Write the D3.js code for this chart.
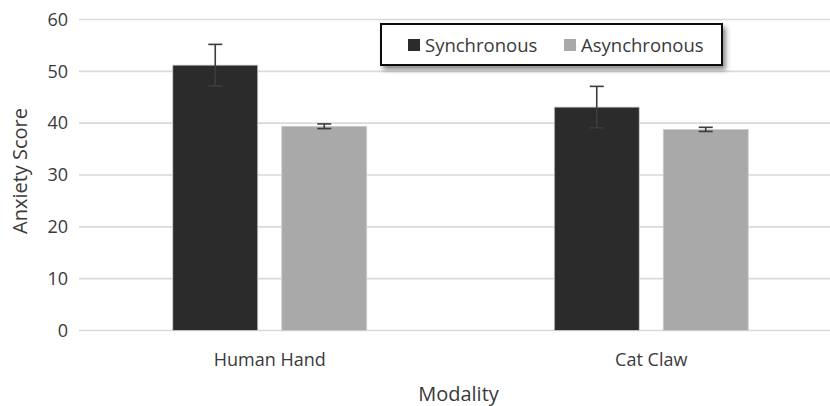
<!DOCTYPE html>
<html>
<head>
<meta charset="utf-8">
<script src="https://cdn.jsdelivr.net/npm/d3@7"></script>
<style>
  body { margin: 0; background: #fff; }
  svg text { font-family: "Open Sans", sans-serif; fill: #3a3a3a; }
</style>
</head>
<body>
<div id="chart"></div>
<script>
// Anxiety score by modality, synchronous vs asynchronous stroking
var categories = ["Human Hand", "Cat Claw"];
var seriesNames = ["Synchronous", "Asynchronous"];
var synchronous = [51.2, 43.1];
var asynchronous = [39.4, 38.8];
var synchronousErr = [4.0, 4.0];
var asynchronousErr = [0.45, 0.4];
var yTicks = [0, 10, 20, 30, 40, 50, 60];

var colors = { Synchronous: "#2b2b2b", Asynchronous: "#a9a9a9" };

var width = 830, height = 406;
var margin = { top: 19, left: 79, bottom: 75 };
var plotRight = 842;

var svg = d3.select("#chart").append("svg")
  .attr("width", width)
  .attr("height", height);

var defs = svg.append("defs");
var shadow = defs.append("filter").attr("id", "legendShadow")
  .attr("x", "-10%").attr("y", "-30%").attr("width", "120%").attr("height", "180%");
shadow.append("feDropShadow")
  .attr("dx", 3).attr("dy", 4).attr("stdDeviation", 2.5)
  .attr("flood-color", "#000").attr("flood-opacity", 0.45);

var y = d3.scaleLinear().domain([0, 60]).range([height - margin.bottom - 0.5, margin.top + 0.5]);

var x0 = d3.scaleBand().domain(categories).range([margin.left, plotRight]);
var groupW = 194;
var x1 = d3.scaleBand().domain(seriesNames)
  .range([(x0.bandwidth() - groupW) / 2, (x0.bandwidth() + groupW) / 2])
  .paddingInner(0.22);

// gridlines
svg.append("g").selectAll("line")
  .data(yTicks)
  .join("line")
  .attr("x1", margin.left).attr("x2", width)
  .attr("y1", function (d) { return y(d); })
  .attr("y2", function (d) { return y(d); })
  .attr("stroke", "#d9d9d9")
  .attr("stroke-width", 1.6);

// y axis labels
var yAxis = svg.append("g")
  .attr("transform", "translate(" + margin.left + ",0)")
  .call(d3.axisLeft(y).tickValues(yTicks).tickSize(0).tickPadding(11));
yAxis.select(".domain").remove();
yAxis.selectAll("text").attr("font-size", 18).style("font-family", "Open Sans").attr("fill", "#3a3a3a");

// bars
var rows = categories.map(function (c, i) {
  return [
    { cat: c, key: "Synchronous", value: synchronous[i], err: synchronousErr[i] },
    { cat: c, key: "Asynchronous", value: asynchronous[i], err: asynchronousErr[i] }
  ];
});

var groups = svg.append("g").selectAll("g")
  .data(rows)
  .join("g")
  .attr("transform", function (d) { return "translate(" + x0(d[0].cat) + ",0)"; });

groups.selectAll("rect")
  .data(function (d) { return d; })
  .join("rect")
  .attr("x", function (d) { return x1(d.key); })
  .attr("width", x1.bandwidth())
  .attr("y", function (d) { return y(d.value); })
  .attr("height", function (d) { return y(0) - y(d.value); })
  .attr("fill", function (d) { return colors[d.key]; })
  .attr("stroke", "#cfcfcf")
  .attr("stroke-width", 0.8);

// error bars
var eb = groups.selectAll("g.err")
  .data(function (d) { return d; })
  .join("g")
  .attr("class", "err")
  .attr("stroke", "#3c3c3c")
  .attr("stroke-width", 1.6);
eb.append("line")
  .attr("x1", function (d) { return x1(d.key) + x1.bandwidth() / 2; })
  .attr("x2", function (d) { return x1(d.key) + x1.bandwidth() / 2; })
  .attr("y1", function (d) { return y(d.value + d.err); })
  .attr("y2", function (d) { return y(d.value - d.err); });
[1, -1].forEach(function (s) {
  eb.append("line")
    .attr("x1", function (d) { return x1(d.key) + x1.bandwidth() / 2 - 7; })
    .attr("x2", function (d) { return x1(d.key) + x1.bandwidth() / 2 + 7; })
    .attr("y1", function (d) { return y(d.value + s * d.err); })
    .attr("y2", function (d) { return y(d.value + s * d.err); });
});

// category labels
svg.append("g").selectAll("text")
  .data(categories)
  .join("text")
  .attr("x", function (d) { return x0(d) + x0.bandwidth() / 2; })
  .attr("y", 366)
  .attr("text-anchor", "middle")
  .attr("font-size", 18)
  .text(function (d) { return d; });

// axis titles (the reference crops the descender of "Modality")
svg.append("text")
  .attr("x", (margin.left + plotRight) / 2 - 2)
  .attr("y", 401)
  .attr("text-anchor", "middle")
  .attr("font-size", 20)
  .text("Modality");

svg.append("text")
  .attr("transform", "translate(27," + 171 + ") rotate(-90)")
  .attr("text-anchor", "middle")
  .attr("font-size", 20)
  .text("Anxiety Score");

// legend
var legend = svg.append("g").attr("transform", "translate(381,24)");
legend.append("rect")
  .attr("width", 341).attr("height", 41)
  .attr("fill", "#fff")
  .attr("stroke", "#111")
  .attr("stroke-width", 2)
  .attr("filter", "url(#legendShadow)");
var legendX = [27, 183];
var items = legend.selectAll("g.item")
  .data(seriesNames)
  .join("g")
  .attr("class", "item")
  .attr("transform", function (d, i) { return "translate(" + legendX[i] + ",15)"; });
items.append("rect")
  .attr("width", 12).attr("height", 12)
  .attr("fill", function (d) { return colors[d]; });
items.append("text")
  .attr("x", 17).attr("y", 13)
  .attr("font-size", 18.5)
  .attr("fill", "#222")
  .text(function (d) { return d; });
</script>
</body>
</html>
